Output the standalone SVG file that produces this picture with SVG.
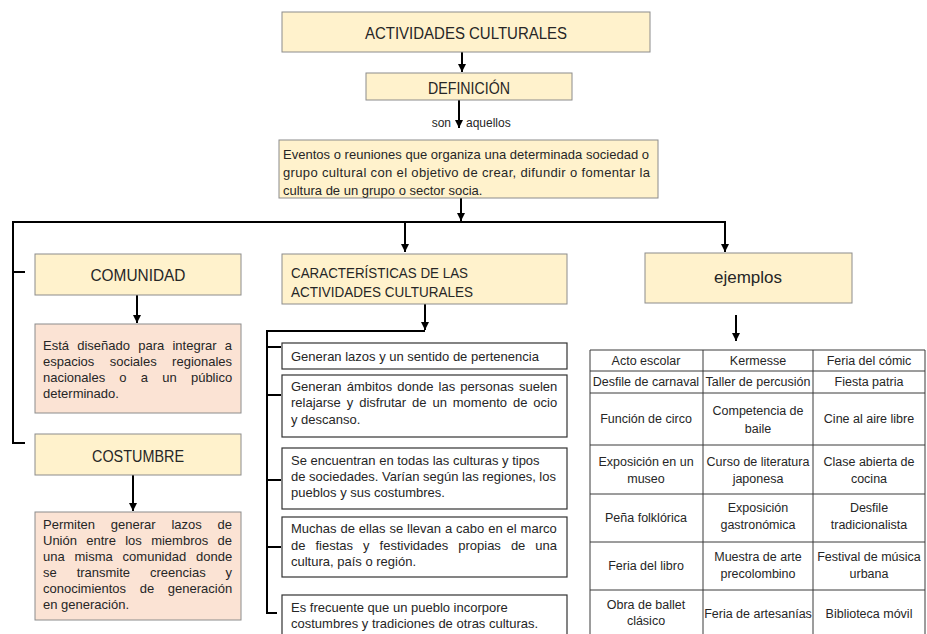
<svg xmlns="http://www.w3.org/2000/svg" width="927" height="634" viewBox="0 0 927 634">
<defs>
<marker id="ah" markerUnits="userSpaceOnUse" markerWidth="9" markerHeight="8" refX="8" refY="4" orient="auto">
<path d="M0,0 L8,4 L0,8 z" fill="#000"/>
</marker>
<style>
.bg{fill:#fff}
.beige{fill:#fff2cc;stroke:#8c8c8c;stroke-width:1}
.pink{fill:#fbe3d4;stroke:#8c8c8c;stroke-width:1}
.white{fill:#fff;stroke:#333;stroke-width:1.2}
.t{font-family:"Liberation Sans",Arial,sans-serif;fill:#262626}
.h{font-size:16px}
.b{font-size:13px}
.s{font-size:12px}
.c{font-size:12.5px;text-anchor:middle}
.mid{text-anchor:middle}
.conn{stroke:#000;stroke-width:2;fill:none}
.grid{stroke:#3a3a3a;stroke-width:1;fill:none}
</style>
</defs>
<rect class="bg" x="0" y="0" width="927" height="634"/>

<g id="connectors">
<line class="conn" x1="462" y1="52" x2="462" y2="72" marker-end="url(#ah)"/>
<line class="conn" x1="459" y1="100" x2="459" y2="128" marker-end="url(#ah)"/>
<line class="conn" x1="461" y1="198" x2="461" y2="221" marker-end="url(#ah)"/>
<path class="conn" d="M726,222 H13 V443 H25"/>
<line class="conn" x1="13" y1="272" x2="25" y2="272"/>
<line class="conn" x1="405" y1="222" x2="405" y2="252" marker-end="url(#ah)"/>
<line class="conn" x1="725" y1="222" x2="725" y2="252" marker-end="url(#ah)"/>
<line class="conn" x1="137" y1="295" x2="137" y2="323" marker-end="url(#ah)"/>
<line class="conn" x1="133" y1="475" x2="133" y2="511" marker-end="url(#ah)"/>
<line class="conn" x1="425" y1="304" x2="425" y2="330" marker-end="url(#ah)"/>
<path class="conn" d="M425,331 H267 V613 H277"/>
<line class="conn" x1="267" y1="347" x2="281" y2="347"/>
<line class="conn" x1="267" y1="395" x2="281" y2="395"/>
<line class="conn" x1="267" y1="480" x2="281" y2="480"/>
<line class="conn" x1="267" y1="547" x2="281" y2="547"/>
<line class="conn" x1="736" y1="315" x2="736" y2="341" marker-end="url(#ah)"/>
</g>

<g id="label-son-aquellos">
<text class="t s" x="451" y="127" text-anchor="end">son</text>
<text class="t s" x="466" y="127">aquellos</text>
</g>

<g id="actividades-culturales">
<rect class="beige" x="282" y="12" width="368" height="40"/>
<text class="t h mid" x="466" y="39" textLength="202" lengthAdjust="spacingAndGlyphs">ACTIVIDADES CULTURALES</text>
</g>

<g id="definicion">
<rect class="beige" x="366" y="73" width="206" height="27"/>
<text class="t h mid" x="469" y="94" textLength="82" lengthAdjust="spacingAndGlyphs">DEFINICIÓN</text>
</g>

<g id="definicion-texto">
<rect class="beige" x="279" y="140" width="379" height="58"/>
<text class="t b" x="283" y="159" textLength="366" lengthAdjust="spacing">Eventos o reuniones que organiza una determinada sociedad o</text>
<text class="t b" x="283" y="177" textLength="367" lengthAdjust="spacing">grupo cultural con el objetivo de crear, difundir o fomentar la</text>
<text class="t b" x="283" y="195">cultura de un grupo o sector socia.</text>
</g>

<g id="comunidad">
<rect class="beige" x="35" y="254" width="206" height="41"/>
<text class="t h mid" x="138" y="281" textLength="95" lengthAdjust="spacingAndGlyphs">COMUNIDAD</text>
</g>

<g id="comunidad-texto">
<rect class="pink" x="35" y="324" width="206" height="89"/>
<text class="t b" x="43" y="350" word-spacing="4.6">Está diseñado para integrar a</text>
<text class="t b" x="43" y="366" word-spacing="11.8">espacios sociales regionales</text>
<text class="t b" x="43" y="382" word-spacing="10.6">nacionales o a un público</text>
<text class="t b" x="43" y="398">determinado.</text>
</g>

<g id="costumbre">
<rect class="beige" x="35" y="434" width="206" height="41"/>
<text class="t h mid" x="138" y="462" textLength="92" lengthAdjust="spacingAndGlyphs">COSTUMBRE</text>
</g>

<g id="costumbre-texto">
<rect class="pink" x="35" y="512" width="206" height="108"/>
<text class="t b" x="43" y="529" word-spacing="12.2">Permiten generar lazos de</text>
<text class="t b" x="43" y="545" word-spacing="5.7">Unión entre los miembros de</text>
<text class="t b" x="43" y="561" word-spacing="6.2">una misma comunidad donde</text>
<text class="t b" x="43" y="577" word-spacing="16.3">se transmite creencias y</text>
<text class="t b" x="43" y="593" word-spacing="10">conocimientos de generación</text>
<text class="t b" x="43" y="609">en generación.</text>
</g>

<g id="caracteristicas">
<rect class="beige" x="282" y="254" width="285" height="50"/>
<text class="t" style="font-size:15px" x="291" y="278" textLength="177" lengthAdjust="spacingAndGlyphs">CARACTERÍSTICAS DE LAS</text>
<text class="t" style="font-size:15px" x="291" y="297" textLength="182" lengthAdjust="spacingAndGlyphs">ACTIVIDADES CULTURALES</text>
</g>

<g id="caract-1">
<rect class="white" x="282" y="343" width="285" height="26"/>
<text class="t b" x="291" y="361">Generan lazos y un sentido de pertenencia</text>
</g>

<g id="caract-2">
<rect class="white" x="282" y="375" width="285" height="62"/>
<text class="t b" x="291" y="391" word-spacing="1.5">Generan ámbitos donde las personas suelen</text>
<text class="t b" x="291" y="407" word-spacing="2.3">relajarse y disfrutar de un momento de ocio</text>
<text class="t b" x="291" y="424">y descanso.</text>
</g>

<g id="caract-3">
<rect class="white" x="282" y="448" width="285" height="61"/>
<text class="t b" x="291" y="465">Se encuentran en todas las culturas y tipos</text>
<text class="t b" x="291" y="481">de sociedades. Varían según las regiones, los</text>
<text class="t b" x="291" y="497">pueblos y sus costumbres.</text>
</g>

<g id="caract-4">
<rect class="white" x="282" y="517" width="285" height="60"/>
<text class="t b" x="291" y="533" word-spacing="0.3">Muchas de ellas se llevan a cabo en el marco</text>
<text class="t b" x="291" y="550" word-spacing="6.4">de fiestas y festividades propias de una</text>
<text class="t b" x="291" y="566">cultura, país o región.</text>
</g>

<g id="caract-5">
<rect class="white" x="282" y="595" width="285" height="50"/>
<text class="t b" x="291" y="612">Es frecuente que un pueblo incorpore</text>
<text class="t b" x="291" y="628">costumbres y tradiciones de otras culturas.</text>
</g>

<g id="ejemplos">
<rect class="beige" x="645" y="253" width="207" height="50"/>
<text class="t mid" style="font-size:17px" x="748" y="283">ejemplos</text>
</g>

<g id="tabla-ejemplos">
<path class="grid" d="M590,350 H925 M590,371 H925 M590,393 H925 M590,445 H925 M590,494 H925 M590,542 H925 M590,590 H925 M590,350 V640 M703,350 V640 M813,350 V640 M925,350 V640"/>
<text class="t c" x="646" y="365">Acto escolar</text>
<text class="t c" x="758" y="365">Kermesse</text>
<text class="t c" x="869" y="365">Feria del cómic</text>
<text class="t c" x="646" y="386">Desfile de carnaval</text>
<text class="t c" x="758" y="386">Taller de percusión</text>
<text class="t c" x="869" y="386">Fiesta patria</text>
<text class="t c" x="646" y="423">Función de circo</text>
<text class="t c" x="758" y="415">Competencia de</text>
<text class="t c" x="758" y="433">baile</text>
<text class="t c" x="869" y="423">Cine al aire libre</text>
<text class="t c" x="646" y="466">Exposición en un</text>
<text class="t c" x="646" y="483">museo</text>
<text class="t c" x="758" y="466">Curso de literatura</text>
<text class="t c" x="758" y="483">japonesa</text>
<text class="t c" x="869" y="466">Clase abierta de</text>
<text class="t c" x="869" y="483">cocina</text>
<text class="t c" x="646" y="522">Peña folklórica</text>
<text class="t c" x="758" y="512">Exposición</text>
<text class="t c" x="758" y="529">gastronómica</text>
<text class="t c" x="869" y="512">Desfile</text>
<text class="t c" x="869" y="529">tradicionalista</text>
<text class="t c" x="646" y="570">Feria del libro</text>
<text class="t c" x="758" y="561">Muestra de arte</text>
<text class="t c" x="758" y="578">precolombino</text>
<text class="t c" x="869" y="561">Festival de música</text>
<text class="t c" x="869" y="578">urbana</text>
<text class="t c" x="646" y="609">Obra de ballet</text>
<text class="t c" x="646" y="625">clásico</text>
<text class="t c" x="758" y="618">Feria de artesanías</text>
<text class="t c" x="869" y="618">Biblioteca móvil</text>
</g>
</svg>
